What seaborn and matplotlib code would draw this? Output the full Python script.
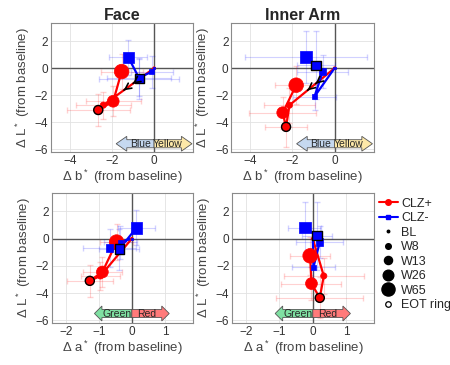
import numpy as np
import pandas as pd
import seaborn as sns
import matplotlib.pyplot as plt
from matplotlib.patches import Polygon
from matplotlib.lines import Line2D

weeks = ['BL', 'W8', 'W13', 'W26', 'W65']
eot = {'CLZ+': 'W13', 'CLZ-': 'W26'}

# Face, CLZ+
face_pos_a = [0, -0.95, -1.27, -0.89, -0.46]
face_pos_b = [0, -2.41, -2.65, -1.94, -1.54]
face_pos_L = [0, -2.74, -3.10, -2.45, -0.25]
face_pos_a_err = [0, 0.6, 0.7, 0.6, 0.5]
face_pos_b_err = [0, 1.3, 1.5, 1.3, 1.0]
face_pos_L_err = [0, 1.0, 1.2, 1.1, 1.3]
# Face, CLZ-
face_neg_a = [0, -0.35, -0.67, -0.38, 0.14]
face_neg_b = [0, -0.10, -0.72, -0.70, -1.22]
face_neg_L = [0, -0.27, -0.69, -0.77, 0.80]
face_neg_a_err = [0, 0.5, 0.8, 0.6, 0.55]
face_neg_b_err = [0, 1.0, 1.5, 1.9, 0.9]
face_neg_L_err = [0, 1.2, 1.4, 1.5, 1.3]
# Inner arm, CLZ+
arm_pos_a = [0, 0.33, 0.21, -0.04, -0.08]
arm_pos_b = [0, -2.14, -2.30, -2.46, -1.82]
arm_pos_L = [0, -2.74, -4.35, -3.30, -1.26]
arm_pos_a_err = [0, 1.2, 1.3, 0.9, 0.6]
arm_pos_b_err = [0, 1.2, 1.0, 1.6, 1.0]
arm_pos_L_err = [0, 1.3, 1.5, 1.2, 1.4]
# Inner arm, CLZ-
arm_neg_a = [0, 0.02, 0.21, 0.12, -0.24]
arm_neg_b = [0, -0.95, -0.56, -0.87, -1.35]
arm_neg_L = [0, -2.10, -0.25, 0.22, 0.82]
arm_neg_a_err = [0, 0.65, 0.7, 0.45, 0.5]
arm_neg_b_err = [0, 1.0, 1.2, 0.9, 2.9]
arm_neg_L_err = [0, 1.0, 1.2, 2.5, 1.9]

RED = '#ff0000'
BLUE = '#0000ff'
dot_size = {'BL': 2.0, 'W8': 4.5, 'W13': 6.5, 'W26': 8.5, 'W65': 10.5}


def make_df(a, b, L, ae, be, Le, group):
    return pd.DataFrame({'week': weeks, 'a': a, 'b': b, 'L': L,
                         'a_err': ae, 'b_err': be, 'L_err': Le, 'group': group})


face = {'CLZ+': make_df(face_pos_a, face_pos_b, face_pos_L, face_pos_a_err,
                        face_pos_b_err, face_pos_L_err, 'CLZ+'),
        'CLZ-': make_df(face_neg_a, face_neg_b, face_neg_L, face_neg_a_err,
                        face_neg_b_err, face_neg_L_err, 'CLZ-')}
arm = {'CLZ+': make_df(arm_pos_a, arm_pos_b, arm_pos_L, arm_pos_a_err,
                       arm_pos_b_err, arm_pos_L_err, 'CLZ+'),
       'CLZ-': make_df(arm_neg_a, arm_neg_b, arm_neg_L, arm_neg_a_err,
                       arm_neg_b_err, arm_neg_L_err, 'CLZ-')}

sns.set_theme(style="whitegrid")
plt.rcParams['font.family'] = ['Liberation Sans', 'DejaVu Sans']
plt.rcParams['mathtext.fontset'] = 'custom'
plt.rcParams['mathtext.rm'] = 'Liberation Sans'


def double_arrow(ax, x0, x1, yc, cols, texts, head=0.14):
    """two coloured halves of a double headed arrow"""
    xc = (x0 + x1) / 2
    hl = (x1 - x0) * head
    hh, bh = 0.55, 0.3
    left = [(x0, yc), (x0 + hl, yc + hh), (x0 + hl, yc + bh), (xc, yc + bh),
            (xc, yc - bh), (x0 + hl, yc - bh), (x0 + hl, yc - hh)]
    right = [(x1, yc), (x1 - hl, yc + hh), (x1 - hl, yc + bh), (xc, yc + bh),
             (xc, yc - bh), (x1 - hl, yc - bh), (x1 - hl, yc - hh)]
    ax.add_patch(Polygon(left, closed=True, fc=cols[0], ec='#555555', lw=0.6, zorder=4))
    ax.add_patch(Polygon(right, closed=True, fc=cols[1], ec='#555555', lw=0.6, zorder=4))
    ax.text((x0 + hl + xc) / 2, yc, texts[0], ha='center', va='center', fontsize=7.5, zorder=5)
    ax.text((x1 - hl + xc) / 2, yc, texts[1], ha='center', va='center', fontsize=7.5, zorder=5)


def draw_panel(ax, data, xcol, arrows=False):
    ax.axhline(0, color='#555555', lw=1, zorder=1)
    ax.axvline(0, color='#555555', lw=1, zorder=1)
    for grp, col, mk, fac in [('CLZ+', RED, 'o', 1.0), ('CLZ-', BLUE, 's', 0.8)]:
        df = data[grp]
        pts = df[df.week != 'BL']
        ax.errorbar(pts[xcol], pts['L'], xerr=pts[xcol + '_err'], yerr=pts['L_err'],
                    fmt='none', ecolor=col, alpha=0.18, elinewidth=0.8, capsize=2, zorder=2)
        sns.lineplot(data=df, x=xcol, y='L', sort=False, estimator=None,
                     color=col, lw=1.6, ax=ax, zorder=3)
        sizes = {w: (dot_size[w] * fac) ** 2 for w in weeks}
        sns.scatterplot(data=df, x=xcol, y='L', size='week', sizes=sizes,
                        marker=mk, color=col, edgecolor=col, linewidth=0.5,
                        legend=False, ax=ax, zorder=4)
        e = df[df.week == eot[grp]]
        ax.scatter(e[xcol], e['L'], s=(dot_size[eot[grp]] * fac) ** 2, marker=mk,
                   facecolor='none', edgecolor='black', linewidth=1.0, zorder=5)
        if arrows and grp == 'CLZ+':
            x1, y1 = df[xcol].iloc[1], df['L'].iloc[1]
            for t in [0.42, 0.6]:
                ax.annotate('', xy=(x1 * t, y1 * t), xytext=(x1 * (t - 0.05), y1 * (t - 0.05)),
                            arrowprops=dict(arrowstyle='->', color='black', lw=1.2,
                                            mutation_scale=11), zorder=6)
    ax.set_ylim(-6.2, 3.35)
    ax.set_yticks([-6, -4, -2, 0, 2])
    ax.grid(True, color='#e2e2e2', lw=0.6)
    for s in ax.spines.values():
        s.set_color('#8a8a8a')
        s.set_linewidth(0.8)
    ax.tick_params(labelsize=8.5, colors='#333333', pad=2, length=0)
    ax.set_ylabel(r'$\Delta$ L$^*$ (from baseline)', fontsize=9.5, color='#444444', labelpad=2)


fig = plt.figure(figsize=(4.5, 3.65), dpi=100)
ax1 = fig.add_axes([0.113, 0.584, 0.316, 0.353])
ax2 = fig.add_axes([0.514, 0.584, 0.316, 0.353])
ax3 = fig.add_axes([0.115, 0.115, 0.314, 0.356])
ax4 = fig.add_axes([0.516, 0.115, 0.316, 0.356])

for ax, data, title in [(ax1, face, 'Face'), (ax2, arm, 'Inner Arm')]:
    draw_panel(ax, data, 'b', arrows=True)
    ax.set_xlim(-4.9, 1.85)
    ax.set_xticks([-4, -2, 0])
    ax.set_xlabel(r'$\Delta$ b$^*$ (from baseline)', fontsize=9.5, color='#444444', labelpad=1)
    ax.set_title(title, fontsize=11.5, fontweight='bold', pad=2)
    double_arrow(ax, -1.8, 1.8, -5.6, ['#c5d8f0', '#fde8a8'], ['Blue', 'Yellow'])

for ax, data in [(ax3, face), (ax4, arm)]:
    draw_panel(ax, data, 'a')
    ax.set_xlim(-2.42, 1.85)
    ax.set_xticks([-2, -1, 0, 1])
    ax.set_xlabel(r'$\Delta$ a$^*$ (from baseline)', fontsize=9.5, color='#444444', labelpad=1)
    double_arrow(ax, -1.13, 1.13, -5.5, ['#7fe0a2', '#ff7a7a'], ['Green', 'Red'], head=0.1)

handles = [Line2D([], [], color=RED, marker='o', ms=4, lw=1.5),
           Line2D([], [], color=BLUE, marker='s', ms=3.5, lw=1.5)]
labels = ['CLZ+', 'CLZ-']
for w in weeks:
    handles.append(Line2D([], [], color='black', marker='o', ls='none',
                          ms=dot_size[w] * 0.9))
    labels.append(w)
handles.append(Line2D([], [], color='black', marker='o', ls='none', ms=4,
                      mfc='none', mew=0.9))
labels.append('EOT ring')
fig.legend(handles, labels, loc='upper left', bbox_to_anchor=(0.842, 0.458),
           frameon=False, fontsize=9, handlelength=1.5, handletextpad=0.3,
           labelspacing=0.2, borderaxespad=0, borderpad=0)

fig.savefig('out.png', dpi=100)
